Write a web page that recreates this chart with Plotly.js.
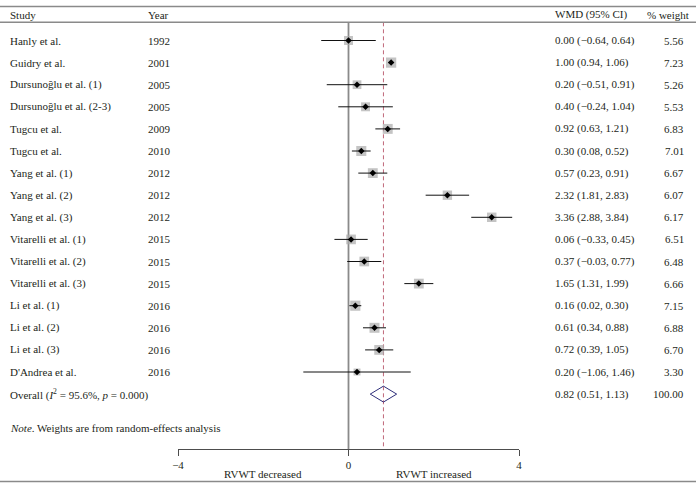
<!DOCTYPE html>
<html><head><meta charset="utf-8">
<script src="https://cdn.plot.ly/plotly-3.0.1.min.js"></script>
<style>body{margin:0;background:#fff;} #chart{width:696px;height:485px;}</style>
</head><body><div id="chart"></div>
<script>
// ---- data ----
const studies = ["Hanly et al.", "Guidry et al.", "Dursunoğlu et al. (1)", "Dursunoğlu et al. (2-3)",
  "Tugcu et al.", "Tugcu et al.", "Yang et al. (1)", "Yang et al. (2)", "Yang et al. (3)",
  "Vitarelli et al. (1)", "Vitarelli et al. (2)", "Vitarelli et al. (3)",
  "Li et al. (1)", "Li et al. (2)", "Li et al. (3)", "D'Andrea et al."];
const years = ["1992", "2001", "2005", "2005", "2009", "2010", "2012", "2012", "2012",
  "2015", "2015", "2015", "2016", "2016", "2016", "2016"];
const wmd = [0.00, 1.00, 0.20, 0.40, 0.92, 0.30, 0.57, 2.32, 3.36, 0.06, 0.37, 1.65, 0.16, 0.61, 0.72, 0.20];
const ciLow = [-0.64, 0.94, -0.51, -0.24, 0.63, 0.08, 0.23, 1.81, 2.88, -0.33, -0.03, 1.31, 0.02, 0.34, 0.39, -1.06];
const ciHigh = [0.64, 1.06, 0.91, 1.04, 1.21, 0.52, 0.91, 2.83, 3.84, 0.45, 0.77, 1.99, 0.30, 0.88, 1.05, 1.46];
const weights = [5.56, 7.23, 5.26, 5.53, 6.83, 7.01, 6.67, 6.07, 6.17, 6.51, 6.48, 6.66, 7.15, 6.88, 6.70, 3.30];
const overallLabel = "Overall (<i>I</i><sup>2</sup> = 95.6%, <i>p</i> = 0.000)";
const overallWMD = 0.82, overallLow = 0.51, overallHigh = 1.13;
const overallWeight = "100.00";
const headers = ["Study", "Year", "WMD (95% CI)", "% weight"];
const noteText = "<i>Note</i>. Weights are from random-effects analysis";
const xTickVals = [-4, 0, 4];
const xTickText = ["\u22124", "0", "4"];
const sideLabels = ["RVWT decreased", "RVWT increased"];

// ---- layout helpers (pixel positions) ----
const W = 696, H = 485;
const px = v => v / W;
const py = v => 1 - v / H;
const FONT = "Liberation Serif, 'DejaVu Serif', serif";
const TXT = "#231f20";
const rowTop = 40.5, rowStep = 22.1;
const n = studies.length;
const rows = studies.map((s, i) => i);
const overallRow = n;
const fmt = v => (v < 0 ? "\u2212" : "") + Math.abs(v).toFixed(2);
const ciStr = (e, l, h) => `${fmt(e)} (${fmt(l)}, ${fmt(h)})`;

// ---- traces ----
const ciX = [], ciY = [];
rows.forEach(i => { ciX.push(ciLow[i], ciHigh[i], null); ciY.push(i, i, null); });

const squares = {
  x: wmd, y: rows, type: "scatter", mode: "markers", hoverinfo: "skip",
  marker: { symbol: "square", color: "#ababab", size: weights.map(w => 3.8 * Math.sqrt(w)), line: { width: 0 } }
};
const ciLines = {
  x: ciX, y: ciY, type: "scatter", mode: "lines", hoverinfo: "skip",
  line: { color: "#111", width: 1 }
};
const dots = {
  x: wmd, y: rows, type: "scatter", mode: "markers", hoverinfo: "skip",
  marker: { symbol: "diamond", color: "#000", size: 5 }
};
const dh = 0.36;
const diamond = {
  x: [overallLow, overallWMD, overallHigh, overallWMD, overallLow],
  y: [overallRow, overallRow - dh, overallRow, overallRow + dh, overallRow],
  type: "scatter", mode: "lines", hoverinfo: "skip",
  line: { color: "#2e2e7a", width: 1 }
};

// ---- annotations ----
const ann = [];
const txt = (x, y, text, align, extra) => Object.assign({
  xref: "paper", yref: "paper", x: px(x), y: py(y), text: text, showarrow: false,
  xanchor: align, yanchor: "middle", font: { family: FONT, size: 11, color: TXT }
}, extra || {});
ann.push(txt(8, 14.5, headers[0], "left"));
ann.push(txt(146, 14.5, headers[1], "left"));
ann.push(txt(553, 14.5, headers[2], "left"));
ann.push(txt(691, 14.5, headers[3], "right"));
rows.forEach(i => {
  ann.push(Object.assign(txt(8, 0, studies[i], "left"), { yref: "y", y: i }));
  ann.push(Object.assign(txt(146, 0, years[i], "left"), { yref: "y", y: i }));
  ann.push(Object.assign(txt(553, 0, ciStr(wmd[i], ciLow[i], ciHigh[i]), "left"), { yref: "y", y: i }));
  ann.push(Object.assign(txt(686, 0, weights[i].toFixed(2), "right"), { yref: "y", y: i }));
});
ann.push(Object.assign(txt(8, 0, overallLabel, "left"), { yref: "y", y: overallRow }));
ann.push(Object.assign(txt(553, 0, ciStr(overallWMD, overallLow, overallHigh), "left"), { yref: "y", y: overallRow }));
ann.push(Object.assign(txt(686, 0, overallWeight, "right"), { yref: "y", y: overallRow }));
ann.push(txt(8, 428, noteText, "left"));
ann.push(Object.assign(txt(0, 474, sideLabels[0], "center"), { xref: "x", x: -2 }));
ann.push(Object.assign(txt(0, 474, sideLabels[1], "center"), { xref: "x", x: 2 }));

// ---- shapes ----
const axisYpx = 449;
const shapes = [
  { type: "line", xref: "paper", yref: "paper", x0: 0, x1: 1, y0: py(6.5), y1: py(6.5), line: { color: "#8a8a8a", width: 1.5 } },
  { type: "line", xref: "paper", yref: "paper", x0: 0, x1: 1, y0: py(22.3), y1: py(22.3), line: { color: "#8a8a8a", width: 1.5 } },
  { type: "line", xref: "paper", yref: "paper", x0: 0, x1: 1, y0: py(481.5), y1: py(481.5), line: { color: "#8a8a8a", width: 1.5 } },
  { type: "line", xref: "x", yref: "paper", x0: 0, x1: 0, y0: py(22.3), y1: py(axisYpx), line: { color: "#8a8a8a", width: 1.8 }, layer: "below" },
  { type: "line", xref: "x", yref: "paper", x0: overallWMD, x1: overallWMD, y0: py(22.3), y1: py(axisYpx), line: { color: "#c0687a", width: 1, dash: "4px,3px" }, layer: "below" }
];

const layout = {
  width: W, height: H, margin: { l: 0, r: 0, t: 0, b: 0 },
  paper_bgcolor: "#fff", plot_bgcolor: "rgba(0,0,0,0)", showlegend: false,
  xaxis: {
    domain: [178 / W, 519 / W], range: [-4, 4], anchor: "free", position: py(axisYpx),
    showline: true, linecolor: "#4d4d4d", linewidth: 1, showgrid: false, zeroline: false,
    ticks: "outside", ticklen: 6, tickwidth: 1, tickcolor: "#4d4d4d",
    tickvals: xTickVals, ticktext: xTickText, tickfont: { family: FONT, size: 11, color: TXT },
    fixedrange: true
  },
  yaxis: {
    domain: [0, 1], range: [(H - rowTop) / rowStep, -rowTop / rowStep], visible: false, fixedrange: true
  },
  shapes: shapes, annotations: ann
};

Plotly.newPlot("chart", [squares, ciLines, dots, diamond], layout, { displayModeBar: false, staticPlot: true });
</script>
</body></html>
